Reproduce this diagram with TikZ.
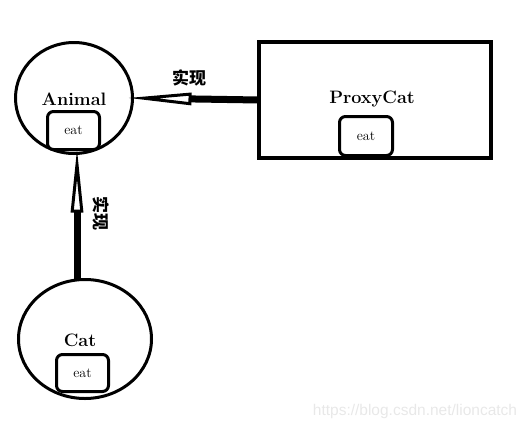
\documentclass[tikz,border=0pt]{standalone}
\usepackage{fontspec}
\usepackage{tikz}
\usetikzlibrary{calc,shapes.geometric,arrows.meta,positioning}
\newfontfamily\cjk{Noto Sans CJK SC}
\newfontfamily\wmfont{Liberation Sans}

\begin{document}
\begin{tikzpicture}[x=1pt,y=-1pt,
	classcirc/.style={draw,ellipse,line width=3pt,inner sep=0pt,outer sep=0pt},
	classrect/.style={draw,rectangle,line width=4.5pt,inner sep=0pt,outer sep=0pt},
	eatbox/.style={draw,fill=white,rounded corners=6pt,line width=3pt,font=\fontsize{14}{16}\selectfont},
	cname/.style={font=\fontsize{18}{21}\selectfont\bfseries},
	realize/.style={line width=7pt,shorten >=-5pt,-{Triangle[fill=white,length=64pt,width=12pt,line width=3pt]}},
	lbl/.style={font=\fontsize{17}{20}\selectfont\cjk\bfseries}]
	\useasboundingbox (0,0) rectangle (528,429);
	
	% classes
	\node[classcirc,minimum width=117pt,minimum height=111pt] (animal) at (74,98) {};
	\node[cname] (animalname) at (74,99) {Animal};
	\node[eatbox,minimum width=52pt,minimum height=38pt] (animaleat) at (73.5,130.5) {eat};
	
	\node[classrect,minimum width=232pt,minimum height=116pt] (proxy) at (375,100) {};
	\node[cname] (proxyname) at (372,99) {ProxyCat};
	\node[eatbox,minimum width=53pt,minimum height=39pt] (proxyeat) at (366,136) {eat};
	
	\node[classcirc,minimum width=133pt,minimum height=119pt] (cat) at (85,339) {};
	\node[cname] (catname) at (80,340) {Cat};
	\node[eatbox,minimum width=52pt,minimum height=37pt] (cateat) at (82.5,373) {eat};
	
	% realizations
	\draw[realize] (proxy.west) -- (animal.east);
	\coordinate (cattop) at (77,281);
	\draw[realize] (cattop) -- (cattop |- animal.south);
	\node[lbl] (lblh) at (189,78) {实现};
	\node[lbl,rotate=-90] (lblv) at (101,213) {实现};
	
	%\draw[help lines] (0,0) grid[step=50] (528,429);
	\node[text=black!9,font=\fontsize{15.5}{18}\selectfont\wmfont] (mark) at (415,411) {https://blog.csdn.net/lioncatch};
\end{tikzpicture}
\end{document}
